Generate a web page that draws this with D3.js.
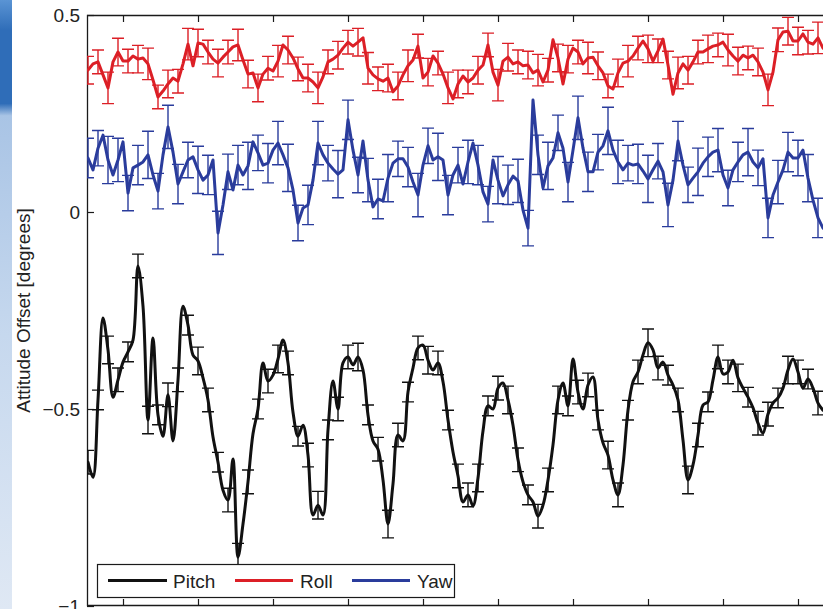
<!DOCTYPE html>
<html>
<head>
<meta charset="utf-8">
<script src="https://cdn.jsdelivr.net/npm/d3@7"></script>
<style>
  html, body { margin: 0; padding: 0; background: #fff; }
  svg { display: block; font-family: "Liberation Sans", Arial, Helvetica, sans-serif; }
</style>
</head>
<body>
<svg id="chart" width="823" height="609"></svg>
<script>
// Attitude offsets (degrees), one sample per step
const pitch = [
  -0.635, -0.673, -0.477, -0.269, -0.350, -0.470, -0.426, -0.381, -0.355, -0.325,
  -0.137, -0.239, -0.528, -0.320, -0.515, -0.569, -0.464, -0.581, -0.426, -0.239,
  -0.287, -0.363, -0.378, -0.421, -0.477, -0.571, -0.635, -0.706, -0.731, -0.627,
  -0.876, -0.792, -0.685, -0.563, -0.500, -0.383, -0.429, -0.414, -0.373, -0.325,
  -0.383, -0.508, -0.569, -0.541, -0.617, -0.769, -0.744, -0.769, -0.553, -0.429,
  -0.500, -0.383, -0.368, -0.388, -0.368, -0.401, -0.515, -0.581, -0.602, -0.680,
  -0.792, -0.690, -0.566, -0.581, -0.457, -0.396, -0.345, -0.338, -0.376, -0.401,
  -0.383, -0.431, -0.528, -0.609, -0.670, -0.736, -0.718, -0.746, -0.675, -0.556,
  -0.492, -0.500, -0.447, -0.434, -0.477, -0.541, -0.629, -0.685, -0.718, -0.736,
  -0.772, -0.744, -0.680, -0.591, -0.477, -0.434, -0.492, -0.373, -0.457, -0.500,
  -0.439, -0.419, -0.528, -0.586, -0.617, -0.680, -0.718, -0.642, -0.503, -0.431,
  -0.406, -0.363, -0.332, -0.350, -0.396, -0.381, -0.414, -0.439, -0.477, -0.579,
  -0.680, -0.642, -0.566, -0.490, -0.482, -0.426, -0.368, -0.411, -0.406, -0.376,
  -0.421, -0.447, -0.470, -0.497, -0.536, -0.561, -0.513, -0.485, -0.472, -0.447,
  -0.401, -0.373, -0.406, -0.447, -0.424, -0.447, -0.485, -0.503
];
const roll = [
  0.360, 0.376, 0.381, 0.348, 0.315, 0.381, 0.406, 0.383, 0.383, 0.396,
  0.388, 0.391, 0.376, 0.335, 0.292, 0.307, 0.325, 0.340, 0.332, 0.376,
  0.426, 0.371, 0.429, 0.426, 0.406, 0.388, 0.378, 0.393, 0.406, 0.419,
  0.424, 0.386, 0.350, 0.353, 0.315, 0.350, 0.365, 0.358, 0.383, 0.424,
  0.411, 0.391, 0.363, 0.340, 0.340, 0.330, 0.315, 0.343, 0.381, 0.388,
  0.398, 0.416, 0.431, 0.421, 0.431, 0.442, 0.365, 0.348, 0.338, 0.332,
  0.340, 0.305, 0.320, 0.348, 0.371, 0.386, 0.421, 0.340, 0.355, 0.396,
  0.378, 0.350, 0.315, 0.287, 0.325, 0.345, 0.330, 0.340, 0.360, 0.373,
  0.424, 0.355, 0.322, 0.383, 0.393, 0.376, 0.381, 0.371, 0.373, 0.353,
  0.360, 0.330, 0.360, 0.437, 0.391, 0.325, 0.388, 0.416, 0.406, 0.376,
  0.391, 0.393, 0.371, 0.353, 0.320, 0.312, 0.353, 0.378, 0.383, 0.396,
  0.416, 0.434, 0.414, 0.383, 0.409, 0.439, 0.373, 0.299, 0.353, 0.376,
  0.360, 0.381, 0.406, 0.406, 0.414, 0.421, 0.424, 0.431, 0.411, 0.396,
  0.383, 0.398, 0.391, 0.398, 0.381, 0.355, 0.310, 0.355, 0.437, 0.457,
  0.459, 0.434, 0.434, 0.452, 0.431, 0.426, 0.442, 0.416
];
const yaw = [
  0.137, 0.107, 0.162, 0.195, 0.132, 0.094, 0.132, 0.178, 0.048, 0.112,
  0.119, 0.127, 0.145, 0.094, 0.053, 0.145, 0.216, 0.152, 0.071, 0.102,
  0.132, 0.140, 0.107, 0.081, 0.094, 0.132, -0.053, 0.018, 0.102, 0.056,
  0.119, 0.094, 0.117, 0.178, 0.150, 0.119, 0.124, 0.157, 0.175, 0.145,
  0.112, 0.056, -0.028, 0.010, 0.018, 0.081, 0.175, 0.145, 0.124, 0.109,
  0.096, 0.107, 0.234, 0.157, 0.094, 0.180, 0.081, 0.013, 0.033, 0.028,
  0.086, 0.124, 0.135, 0.135, 0.114, 0.076, 0.043, 0.119, 0.168, 0.132,
  0.140, 0.132, 0.043, 0.094, 0.119, 0.071, 0.127, 0.175, 0.119, 0.051,
  0.020, 0.132, 0.081, 0.041, 0.069, 0.091, 0.079, 0.005, -0.041, 0.284,
  0.145, 0.061, 0.117, 0.137, 0.201, 0.162, 0.076, 0.157, 0.239, 0.162,
  0.102, 0.102, 0.152, 0.168, 0.206, 0.157, 0.127, 0.107, 0.124, 0.119,
  0.122, 0.104, 0.084, 0.107, 0.129, 0.102, 0.018, 0.081, 0.180, 0.119,
  0.069, 0.086, 0.102, 0.124, 0.140, 0.152, 0.157, 0.094, 0.061, 0.107,
  0.127, 0.145, 0.152, 0.127, 0.112, 0.135, -0.015, 0.043, 0.076, 0.107,
  0.152, 0.137, 0.137, 0.157, 0.086, 0.030, -0.015, -0.041
];

// One-sigma uncertainties, reported on every second sample
const errStride = 2;
const pitchErr = [
  0.030, 0.025, 0.035, 0.030, 0.025, 0.030, 0.035, 0.025, 0.030, 0.030,
  0.025, 0.035, 0.030, 0.025, 0.030, 0.035, 0.030, 0.025, 0.030, 0.035,
  0.030, 0.025, 0.030, 0.035, 0.025, 0.030, 0.030, 0.035, 0.025, 0.030,
  0.035, 0.030, 0.025, 0.030, 0.035, 0.030, 0.025, 0.030, 0.030, 0.035,
  0.025, 0.030, 0.035, 0.030, 0.025, 0.030, 0.030, 0.035, 0.025, 0.030,
  0.030, 0.025, 0.035, 0.030, 0.025, 0.030, 0.035, 0.030, 0.025, 0.030,
  0.035, 0.030, 0.025, 0.030, 0.030, 0.035, 0.025, 0.030, 0.030, 0.025,
  0.035, 0.030, 0.025, 0.030
];
const rollErr = [
  0.035, 0.030, 0.040, 0.035, 0.030, 0.035, 0.040, 0.030, 0.035, 0.030,
  0.040, 0.035, 0.030, 0.035, 0.030, 0.040, 0.035, 0.035, 0.030, 0.040,
  0.035, 0.030, 0.035, 0.040, 0.030, 0.035, 0.030, 0.035, 0.040, 0.030,
  0.035, 0.035, 0.040, 0.030, 0.035, 0.030, 0.040, 0.035, 0.030, 0.035,
  0.030, 0.040, 0.035, 0.030, 0.035, 0.040, 0.030, 0.035, 0.035, 0.030,
  0.040, 0.035, 0.030, 0.035, 0.040, 0.030, 0.035, 0.030, 0.035, 0.040,
  0.035, 0.030, 0.035, 0.030, 0.040, 0.035, 0.030, 0.035, 0.040, 0.030,
  0.035, 0.035, 0.030, 0.040
];
const yawErr = [
  0.050, 0.045, 0.060, 0.055, 0.045, 0.050, 0.060, 0.045, 0.055, 0.050,
  0.045, 0.060, 0.050, 0.055, 0.045, 0.050, 0.060, 0.045, 0.050, 0.055,
  0.060, 0.045, 0.050, 0.055, 0.045, 0.060, 0.050, 0.045, 0.055, 0.050,
  0.060, 0.045, 0.050, 0.055, 0.045, 0.060, 0.050, 0.045, 0.055, 0.050,
  0.045, 0.060, 0.050, 0.055, 0.045, 0.050, 0.060, 0.045, 0.050, 0.055,
  0.050, 0.045, 0.060, 0.055, 0.045, 0.050, 0.060, 0.045, 0.055, 0.050,
  0.045, 0.060, 0.050, 0.055, 0.045, 0.050, 0.060, 0.045, 0.050, 0.055,
  0.050, 0.045, 0.060, 0.050
];

const seriesNames = ["Pitch", "Roll", "Yaw"];
const yTicks = [0.5, 0, -0.5, -1];
const yTickLabels = ["0.5", "0", "\u22120.5", "\u22121"];
const xTicks = [7, 22, 37, 52, 67, 82, 97, 112, 127, 142];
const yLabel = "Attitude Offset [degrees]";

const series = [
  { name: seriesNames[0], values: pitch, err: pitchErr, color: "#111111", curve: d3.curveCatmullRom },
  { name: seriesNames[1], values: roll,  err: rollErr,  color: "#dc1f26", curve: d3.curveLinear },
  { name: seriesNames[2], values: yaw,   err: yawErr,   color: "#2a3c9c", curve: d3.curveLinear }
];

const svg = d3.select("#chart");
const box = { left: 87, top: 15, right: 840, bottom: 606 };

const x = d3.scaleLinear().domain([0, pitch.length - 1]).range([88, 823]);
const y = d3.scaleLinear().domain([-1, 0.5]).range([box.bottom, box.top]);

// slide edge on the left
const defs = svg.append("defs");
const grad = defs.append("linearGradient").attr("id", "edge").attr("x1", 0).attr("y1", 0).attr("x2", 0).attr("y2", 1);
[[0, "#5a94d4"], [0.05, "#2f6db8"], [0.17, "#2f6db8"], [0.19, "#a9c4e5"], [0.55, "#c6d8ee"], [1, "#dfe8f4"]]
  .forEach(([o, c]) => grad.append("stop").attr("offset", o).attr("stop-color", c));
svg.append("rect").attr("x", 0).attr("y", 0).attr("width", 12).attr("height", 609).attr("fill", "url(#edge)");

defs.append("clipPath").attr("id", "plotClip").append("rect")
  .attr("x", box.left).attr("y", box.top).attr("width", box.right - box.left).attr("height", box.bottom - box.top);

// axes
const axisColor = "#1a1a1a";
const gLeft = svg.append("g").attr("transform", `translate(${box.left},0)`)
  .call(d3.axisLeft(y).tickValues(yTicks).tickSize(-7).tickSizeOuter(0).tickPadding(7)
    .tickFormat((d, i) => yTickLabels[i]));
const gBottom = svg.append("g").attr("transform", `translate(0,${box.bottom})`)
  .call(d3.axisBottom(x).tickValues(xTicks).tickSize(-7).tickSizeOuter(0).tickFormat(""));
const gTop = svg.append("g").attr("transform", `translate(0,${box.top})`)
  .call(d3.axisTop(x).tickValues(xTicks).tickSize(-7).tickSizeOuter(0).tickFormat(""));
[gLeft, gBottom, gTop].forEach(g => {
  g.select(".domain").remove();
  g.selectAll(".tick line").attr("stroke", axisColor).attr("stroke-width", 1.2);
  g.selectAll(".tick text").attr("fill", "#222").style("font-size", "19px");
});

// plot frame
svg.append("path")
  .attr("d", `M${box.right},${box.top + 0.5}H${box.left + 0.5}V${box.bottom - 0.5}H${box.right}`)
  .attr("fill", "none").attr("stroke", axisColor).attr("stroke-width", 1.3);

svg.append("text")
  .attr("transform", `translate(23,${(box.top + box.bottom) / 2}) rotate(-90)`)
  .attr("text-anchor", "middle").attr("dy", "0.35em")
  .attr("fill", "#222").style("font-size", "19px")
  .text(yLabel);

// series: error bars plus line
const plotG = svg.append("g").attr("clip-path", "url(#plotClip)");
const capHalf = 6;
series.forEach(s => {
  const g = plotG.append("g");
  const bars = s.err.map((e, k) => ({ i: k * errStride, v: s.values[k * errStride], e }));
  const eb = g.selectAll("g.eb").data(bars).join("g").attr("class", "eb")
    .attr("stroke", s.color).attr("stroke-width", 1.4).attr("fill", "none");
  eb.append("path").attr("d", d => {
    const cx = x(d.i), y0 = y(d.v - d.e), y1 = y(d.v + d.e);
    return `M${cx},${y0}V${y1}M${cx - capHalf},${y0}H${cx + capHalf}M${cx - capHalf},${y1}H${cx + capHalf}`;
  });
  const line = d3.line().x((d, i) => x(i)).y(d => y(d)).curve(s.curve);
  g.append("path").attr("d", line(s.values))
    .attr("fill", "none").attr("stroke", s.color).attr("stroke-width", 3)
    .attr("stroke-linejoin", "round").attr("stroke-linecap", "round");
});

// legend
const lg = svg.append("g");
lg.append("rect").attr("x", 97.5).attr("y", 564.5).attr("width", 357).attr("height", 33)
  .attr("fill", "#fff").attr("stroke", axisColor).attr("stroke-width", 1.2);
const legendPos = [{ x1: 108, x2: 167, tx: 173 }, { x1: 235, x2: 293, tx: 300 }, { x1: 352, x2: 410, tx: 417 }];
series.forEach((s, k) => {
  const p = legendPos[k];
  lg.append("line").attr("x1", p.x1).attr("x2", p.x2).attr("y1", 580.5).attr("y2", 580.5)
    .attr("stroke", s.color).attr("stroke-width", 3);
  lg.append("text").attr("x", p.tx).attr("y", 581).attr("dy", "0.35em")
    .attr("fill", "#222").style("font-size", "19px").text(s.name);
});
</script>
</body>
</html>
